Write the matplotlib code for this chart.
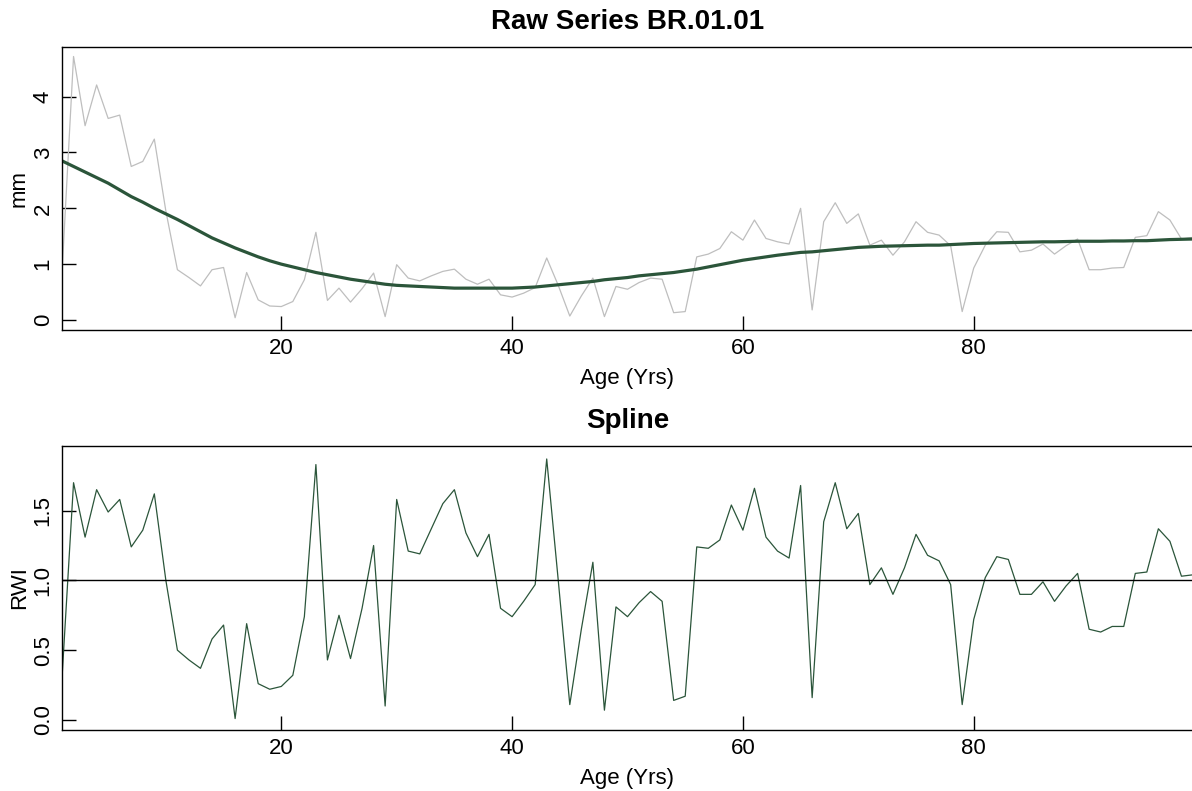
import numpy as np
import matplotlib
matplotlib.use("Agg")
import matplotlib.pyplot as plt

plt.rcParams['font.family'] = ['Liberation Sans', 'DejaVu Sans']

# ages 1..99
age = np.arange(1, 100)

# raw ring widths (mm)
raw_mm = [0.84, 4.72, 3.48, 4.21, 3.61, 3.67, 2.75, 2.84, 3.24, 1.95,
          0.90, 0.76, 0.61, 0.90, 0.94, 0.04, 0.85, 0.36, 0.25, 0.24,
          0.33, 0.72, 1.57, 0.35, 0.57, 0.32, 0.56, 0.84, 0.06, 0.99,
          0.75, 0.70, 0.79, 0.87, 0.91, 0.73, 0.64, 0.73, 0.45, 0.41,
          0.48, 0.58, 1.11, 0.62, 0.07, 0.43, 0.75, 0.06, 0.60, 0.55,
          0.67, 0.75, 0.73, 0.13, 0.15, 1.13, 1.18, 1.28, 1.58, 1.43,
          1.79, 1.46, 1.40, 1.36, 2.00, 0.18, 1.76, 2.10, 1.73, 1.90,
          1.34, 1.43, 1.16, 1.40, 1.76, 1.57, 1.52, 1.33, 0.15, 0.93,
          1.34, 1.58, 1.57, 1.22, 1.25, 1.36, 1.18, 1.33, 1.45, 0.90,
          0.90, 0.93, 0.94, 1.48, 1.51, 1.94, 1.79, 1.45, 1.48]

# fitted spline curve (mm)
spline_mm = [2.85, 2.75, 2.65, 2.55, 2.45, 2.33, 2.21, 2.11, 2.00, 1.90,
             1.80, 1.69, 1.58, 1.47, 1.38, 1.29, 1.21, 1.13, 1.06, 1.00,
             0.95, 0.90, 0.85, 0.81, 0.77, 0.73, 0.70, 0.67, 0.64, 0.62,
             0.61, 0.60, 0.59, 0.58, 0.57, 0.57, 0.57, 0.57, 0.57, 0.57,
             0.58, 0.59, 0.61, 0.63, 0.65, 0.67, 0.69, 0.72, 0.74, 0.76,
             0.79, 0.81, 0.83, 0.85, 0.88, 0.91, 0.95, 0.99, 1.03, 1.07,
             1.10, 1.13, 1.16, 1.185, 1.21, 1.22, 1.24, 1.26, 1.28, 1.30,
             1.31, 1.32, 1.325, 1.33, 1.335, 1.34, 1.34, 1.35, 1.36, 1.37,
             1.375, 1.38, 1.385, 1.39, 1.395, 1.40, 1.40, 1.405, 1.41, 1.41,
             1.41, 1.415, 1.415, 1.42, 1.42, 1.43, 1.44, 1.445, 1.45]

# ring width index
rwi = [0.30, 1.70, 1.31, 1.65, 1.49, 1.58, 1.24, 1.36, 1.62, 1.00,
       0.50, 0.43, 0.37, 0.58, 0.68, 0.01, 0.69, 0.26, 0.22, 0.24,
       0.32, 0.74, 1.83, 0.43, 0.75, 0.44, 0.80, 1.25, 0.10, 1.58,
       1.21, 1.19, 1.37, 1.55, 1.65, 1.34, 1.17, 1.33, 0.80, 0.74,
       0.85, 0.97, 1.87, 1.00, 0.11, 0.65, 1.13, 0.07, 0.81, 0.74,
       0.84, 0.92, 0.85, 0.14, 0.17, 1.24, 1.23, 1.29, 1.54, 1.36,
       1.66, 1.31, 1.21, 1.16, 1.68, 0.16, 1.42, 1.70, 1.37, 1.48,
       0.97, 1.09, 0.90, 1.09, 1.33, 1.18, 1.14, 0.97, 0.11, 0.72,
       1.02, 1.17, 1.15, 0.90, 0.90, 0.99, 0.85, 0.96, 1.05, 0.65,
       0.63, 0.67, 0.67, 1.05, 1.06, 1.37, 1.28, 1.03, 1.04]

green = '#2b553a'
W, H = 1192, 791
fig = plt.figure(figsize=(W / 100, H / 100), dpi=100)

def px_axes(left, top, right, bottom):
    return fig.add_axes([left / W, 1 - bottom / H, (right - left) / W, (bottom - top) / H])

def style(ax, title, ylab):
    ax.set_title(title, fontsize=20, fontweight='bold', pad=13)
    ax.set_xlabel('Age (Yrs)', fontsize=16, labelpad=6)
    ax.set_ylabel(ylab, fontsize=16, labelpad=2)
    ax.set_xlim(1, 99)
    ax.set_xticks([20, 40, 60, 80])
    ax.tick_params(direction='in', length=10, width=1, labelsize=16, pad=6)
    for lab in ax.get_yticklabels():
        lab.set_rotation(90)
        lab.set_va('center')
    for s in ax.spines.values():
        s.set_linewidth(1.0)

# top panel: raw series + spline
ax1 = px_axes(62, 47, 1193, 330)
ax1.plot(age, raw_mm, color='#bebebe', lw=0.9)
ax1.plot(age, spline_mm, color=green, lw=2.3)
ax1.set_ylim(-0.18, 4.89)
ax1.set_yticks([0, 1, 2, 3, 4])
style(ax1, 'Raw Series BR.01.01', 'mm')

# bottom panel: RWI
ax2 = px_axes(62, 446, 1193, 730)
ax2.plot(age, rwi, color=green, lw=0.9)
ax2.axhline(1.0, color='black', lw=1.0)
ax2.set_ylim(-0.072, 1.963)
ax2.set_yticks([0.0, 0.5, 1.0, 1.5])
ax2.set_yticklabels(['0.0', '0.5', '1.0', '1.5'])
style(ax2, 'Spline', 'RWI')

fig.savefig('out.png', dpi=100)
